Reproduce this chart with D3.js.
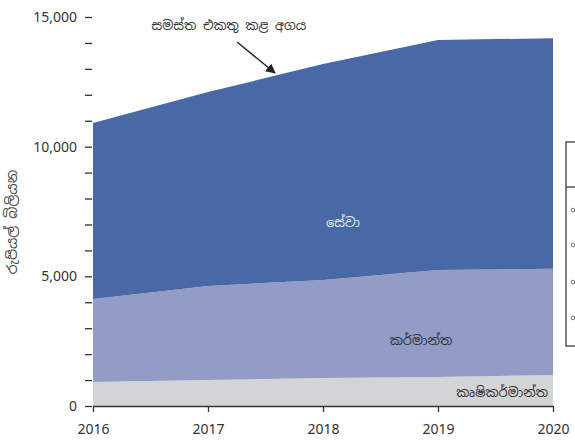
<!DOCTYPE html>
<html>
<head>
<meta charset="utf-8">
<script src="https://cdn.jsdelivr.net/npm/d3@7"></script>
<style>
  body { margin: 0; background: #fff; }
  svg { font-family: "Noto Sans Sinhala", "Noto Sans", "DejaVu Sans", sans-serif; }
  .tick text { font-family: "Noto Sans", "Open Sans", sans-serif; font-size: 14px; fill: #333; }
</style>
</head>
<body>
<svg id="chart" width="575" height="444"></svg>
<script>
const years = [2016, 2017, 2018, 2019, 2020];
const agriculture = [925, 1000, 1080, 1120, 1195];
const industry = [3200, 3625, 3780, 4120, 4100];
const services = [6785, 7480, 8325, 8870, 8890];
const seriesKeys = ["agriculture", "industry", "services"];
const seriesNames = ["කෘෂිකර්මාන්ත", "කර්මාන්ත", "සේවා"];
const yTicks = [0, 5000, 10000, 15000];
const yTitle = "රුපියල් බිලියන";
const totalLabel = "සමස්ත එකතු කළ අගය";

const COLORS = { agriculture: "#d3d4d6", industry: "#939cc7", services: "#4868a6" };

const svg = d3.select("#chart");
const x = d3.scaleLinear().domain([2016, 2020]).range([93, 553]);
const y = d3.scaleLinear().domain([0, 15000]).range([406, 17]);

// stacked data
const rows = years.map((yr, i) => ({
  year: yr, agriculture: agriculture[i], industry: industry[i], services: services[i]
}));
const stacked = d3.stack().keys(seriesKeys)(rows);

const area = d3.area()
  .x(d => x(d.data.year))
  .y0(d => y(d[0]))
  .y1(d => y(d[1]));

svg.selectAll("path.layer")
  .data(stacked)
  .enter()
  .append("path")
  .attr("class", "layer")
  .attr("fill", d => COLORS[d.key])
  .attr("d", area);

// y axis: ticks only, minor every 1000
const yAxis = svg.append("g")
  .attr("transform", "translate(92,0)")
  .call(d3.axisLeft(y).tickValues(d3.range(0, 15001, 1000)).tickSize(7).tickPadding(8)
    .tickFormat(d => yTicks.includes(d) ? d3.format(",")(d) : ""));
yAxis.select(".domain").remove();
yAxis.selectAll("line").attr("stroke", "#333").attr("stroke-width", 1.3);

// x axis
const xAxis = svg.append("g")
  .attr("transform", "translate(0,406)")
  .call(d3.axisBottom(x).tickValues(years).tickFormat(d3.format("d")).tickSize(6).tickPadding(12).tickSizeOuter(0));
xAxis.select(".domain").attr("stroke", "#333").attr("stroke-width", 1.3);
xAxis.selectAll("line").attr("stroke", "#333").attr("stroke-width", 1.3);

// y title
svg.append("text")
  .attr("transform", "translate(17,222) rotate(-90)")
  .attr("text-anchor", "middle")
  .attr("font-size", 14)
  .attr("fill", "#444")
  .text(yTitle);

// series labels
svg.append("text").attr("x", 343).attr("y", 227).attr("text-anchor", "middle")
  .attr("font-size", 13).attr("fill", "#e4e8f2").text(seriesNames[2]);
svg.append("text").attr("x", 421).attr("y", 345).attr("text-anchor", "middle")
  .attr("font-size", 13).attr("fill", "#333").text(seriesNames[1]);
svg.append("text").attr("x", 548).attr("y", 397).attr("text-anchor", "end")
  .attr("font-size", 13).attr("fill", "#333").text(seriesNames[0]);

// total annotation with arrow
svg.append("defs").append("marker")
  .attr("id", "arrow").attr("viewBox", "0 0 10 10")
  .attr("refX", 9).attr("refY", 5)
  .attr("markerWidth", 7).attr("markerHeight", 7)
  .attr("orient", "auto")
  .append("path").attr("d", "M0,0 L10,5 L0,10 z").attr("fill", "#222");

svg.append("text").attr("x", 229).attr("y", 30).attr("text-anchor", "middle")
  .attr("font-size", 13).attr("fill", "#333").text(totalLabel);
svg.append("line")
  .attr("x1", 237).attr("y1", 42).attr("x2", 275).attr("y2", 73)
  .attr("stroke", "#222").attr("stroke-width", 1.4)
  .attr("marker-end", "url(#arrow)");

// legend box cut off at the right edge (only its left border and glyph edges show)
const legend = svg.append("g");
legend.append("rect").attr("x", 566).attr("y", 142).attr("width", 30).attr("height", 204)
  .attr("fill", "none").attr("stroke", "#555").attr("stroke-width", 1.5);
legend.append("line").attr("x1", 566).attr("x2", 600).attr("y1", 187).attr("y2", 187)
  .attr("stroke", "#555").attr("stroke-width", 1.5);
[210, 245, 282, 318].forEach(ty => {
  legend.append("circle").attr("cx", 573).attr("cy", ty).attr("r", 1.8)
    .attr("fill", "none").attr("stroke", "#777").attr("stroke-width", 1);
});
</script>
</body>
</html>
